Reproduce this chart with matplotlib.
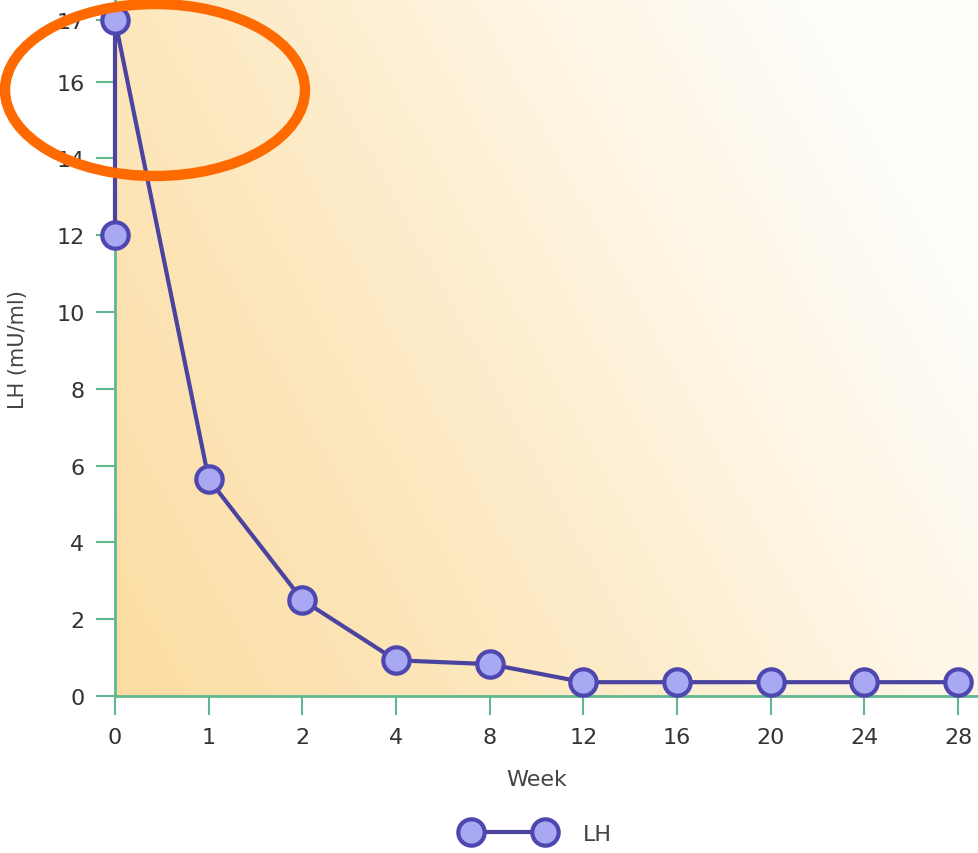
import numpy as np
import matplotlib
matplotlib.use("Agg")
import matplotlib.pyplot as plt
from matplotlib.patches import Ellipse
from matplotlib.lines import Line2D
from matplotlib.colors import LinearSegmentedColormap

# ---- data ----
week_labels = ["0", "1", "2", "4", "8", "12", "16", "20", "24", "28"]
baseline_lh = 12.0          # week 0, before treatment
lh_values = [17.6, 5.65, 2.5, 0.93, 0.83, 0.36, 0.36, 0.36, 0.36, 0.36]
y_ticks = [0, 2, 4, 6, 8, 10, 12, 14, 16]
y_tick_labels = ["0", "2", "4", "6", "8", "10", "12", "14", "16"]
top_tick_label = "17"

W, H = 979, 854
fig = plt.figure(figsize=(W / 100, H / 100), dpi=100)
ax = fig.add_axes([115 / W, 1 - 697 / H, 1 - 115 / W, 697 / H])

xpos = np.arange(len(week_labels))
xs = np.concatenate([[0], xpos])
ys = np.concatenate([[baseline_lh], lh_values])

ymax = 697 / 38.4
xmax = (979 - 115) / 93.67
ax.set_xlim(0, xmax)
ax.set_ylim(0, ymax)

# gradient background
n = 300
gx, gy = np.meshgrid(np.linspace(0, 1, n), np.linspace(0, 1, n))
g = np.clip(0.8 * gx + 0.35 * (1 - gy), 0, 1)  # 0 at bottom-left, ~1 at top-right
cmap = LinearSegmentedColormap.from_list("bg", ["#fcdca2", "#fde7bd", "#fef4e0", "#ffffff"])
ax.imshow(g, extent=[0, xmax, 0, ymax], origin="upper", aspect="auto",
          cmap=cmap, vmin=0, vmax=1.05, zorder=0)

line_color = "#4b43a0"
ax.plot(xs, ys, color=line_color, lw=3, zorder=3, clip_on=False,
        marker="o", ms=19, mfc="#a9a8f2", mec="#4f47b0", mew=3)

green = "#5fb890"
for s in ["top", "right"]:
    ax.spines[s].set_visible(False)
ax.spines["left"].set_color(green)
ax.spines["bottom"].set_color(green)
ax.spines["left"].set_linewidth(2)
ax.spines["bottom"].set_linewidth(2)

ax.set_xticks(xpos)
ax.set_xticklabels(week_labels)
ax.set_yticks(y_ticks + [lh_values[0]])
ax.set_yticklabels(y_tick_labels + [top_tick_label])
ax.tick_params(axis="both", colors=green, length=14, width=1.5, labelsize=16,
               labelcolor="#333333", pad=8)

fig.text(537 / W, 1 - 780 / H, "Week", ha="center", va="center",
         fontsize=16, color="#444444")
fig.text(18 / W, 1 - 350 / H, "LH (mU/ml)", ha="center", va="center",
         rotation=90, fontsize=15, color="#444444")

handle = Line2D([], [], color=line_color, lw=3, marker="o", ms=19,
                mfc="#a9a8f2", mec="#4f47b0", mew=3)
fig.legend([handle], ["LH"], loc="center", bbox_to_anchor=(538 / W, 1 - 835 / H),
           frameon=False, numpoints=2, handlelength=3.9, fontsize=16,
           labelcolor="#444444", handletextpad=1.4)

ell = Ellipse((155 / W, 1 - 91 / H), 300 / W, 172 / H, transform=fig.transFigure,
              fill=False, edgecolor="#ff6a00", lw=7.5, zorder=10)
fig.patches.append(ell)

fig.savefig("out.png", dpi=100)
